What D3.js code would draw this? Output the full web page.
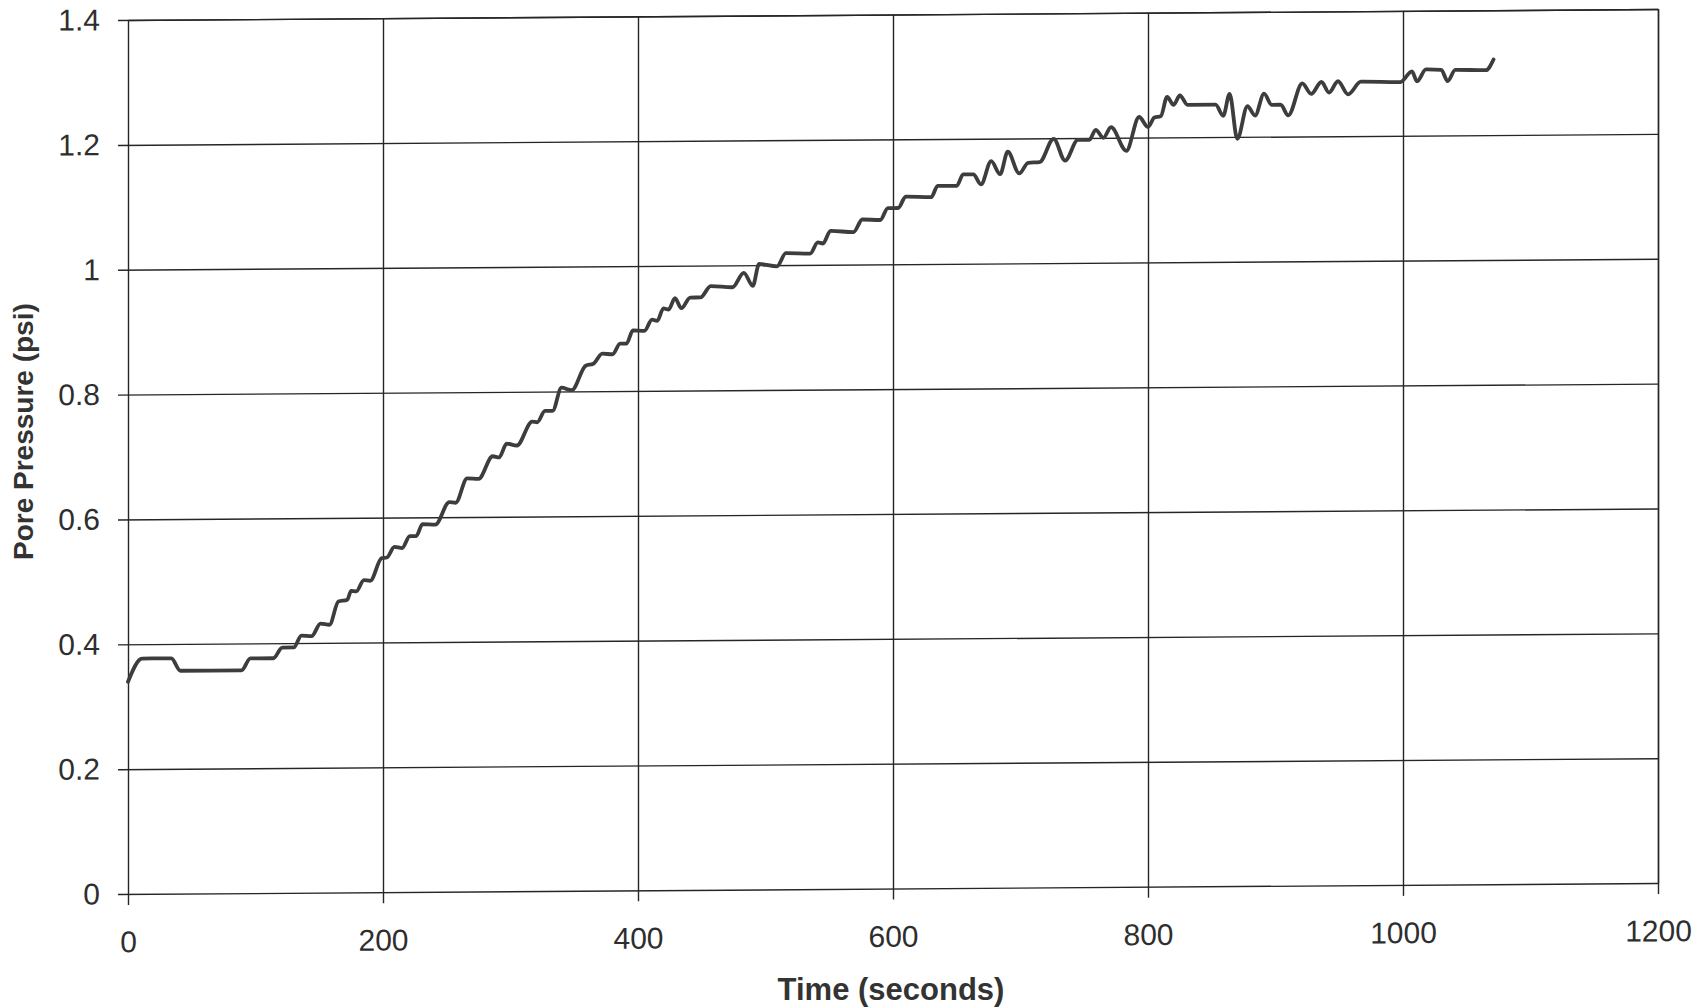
<!DOCTYPE html>
<html>
<head>
<meta charset="utf-8">
<script src="https://cdn.jsdelivr.net/npm/d3@7"></script>
<style>
  body { margin: 0; background: #fff; }
  .axis text { font-family: "Liberation Sans", Arial, sans-serif; font-size: 30px; fill: #2e2e2e; }
  .axis line, .axis path { stroke: #262626; stroke-width: 1.4px; }
  .title { font-family: "Liberation Sans", Arial, sans-serif; font-weight: bold; fill: #333; }
  .line { fill: none; stroke: #3d3d3d; stroke-width: 3.8px; stroke-linejoin: round; stroke-linecap: round; }
</style>
</head>
<body>
<div id="chart"></div>
<script>
// pore pressure record
var time = [0, 11, 34, 41, 89, 96, 114, 121, 130, 136, 144, 151, 158, 165, 172, 175, 179, 185, 190,
  199, 203, 209, 215, 221, 226, 231, 241, 252, 257, 266, 275, 286, 291, 297, 305, 317, 321, 327, 333,
  340, 348, 359, 365, 372, 380, 386, 391, 396, 405, 411, 415, 420, 424, 429, 434, 441, 449, 457, 474,
  483, 490, 495, 509, 516, 535, 541, 545, 551, 569, 576, 590, 596, 604, 610, 630, 635, 650, 655, 663,
  669, 677, 684, 690, 699, 706, 715, 726, 735, 745, 754, 759, 765, 771, 783, 793, 800, 805, 810, 815,
  820, 825, 831, 853, 859, 864, 870, 878, 884, 891, 897, 904, 910, 921, 928, 936, 942, 949, 957, 967,
  998, 1007, 1011, 1018, 1030, 1035, 1041, 1065, 1071];

var pressure = [0.340, 0.377, 0.377, 0.357, 0.357, 0.376, 0.376, 0.393, 0.393, 0.412, 0.411, 0.431, 0.429,
  0.466, 0.469, 0.483, 0.482, 0.500, 0.499, 0.535, 0.536, 0.553, 0.551, 0.570, 0.570, 0.589, 0.588,
  0.624, 0.623, 0.662, 0.661, 0.697, 0.695, 0.717, 0.714, 0.752, 0.751, 0.769, 0.769, 0.806, 0.802,
  0.841, 0.844, 0.860, 0.859, 0.876, 0.876, 0.897, 0.896, 0.914, 0.912, 0.932, 0.930, 0.948, 0.932,
  0.949, 0.949, 0.967, 0.965, 0.988, 0.967, 1.002, 0.998, 1.019, 1.018, 1.036, 1.034, 1.054, 1.052,
  1.072, 1.071, 1.090, 1.090, 1.108, 1.107, 1.125, 1.125, 1.143, 1.143, 1.127, 1.164, 1.143, 1.179,
  1.144, 1.161, 1.162, 1.199, 1.164, 1.197, 1.197, 1.213, 1.200, 1.217, 1.179, 1.233, 1.217, 1.232,
  1.234, 1.265, 1.252, 1.267, 1.252, 1.252, 1.234, 1.269, 1.197, 1.249, 1.234, 1.269, 1.251, 1.251,
  1.234, 1.285, 1.268, 1.287, 1.270, 1.288, 1.267, 1.287, 1.286, 1.303, 1.287, 1.306, 1.305, 1.287,
  1.305, 1.304, 1.321];

var xTicks = [0, 200, 400, 600, 800, 1000, 1200];
var xTickLabels = ["0", "200", "400", "600", "800", "1000", "1200"];
var yTicks = [0, 0.2, 0.4, 0.6, 0.8, 1, 1.2, 1.4];
var yTickLabels = ["0", "0.2", "0.4", "0.6", "0.8", "1", "1.2", "1.4"];

var width = 1530;
var height = 874;

var svg = d3.select('#chart')
          .append('svg')
          .attr('width', 1705)
          .attr('height', 1008);

// the scan is a little crooked, so the plot leans slightly
var g = svg.append('g')
           .attr('transform', 'translate(128,20) skewY(-0.41)');

var x = d3.scaleLinear().domain([0, 1200]).range([0, width]);
var y = d3.scaleLinear().domain([0, 1.4]).range([height, 0]);

// horizontal grid + y labels
g.append('g').attr('class', 'axis axis-y')
 .attr('transform', 'translate(' + width + ',0)')
 .call(d3.axisLeft(y)
         .tickValues(yTicks)
         .tickSizeInner(width + 10)
         .tickSizeOuter(0)
         .tickPadding(18)
         .tickFormat(function(d, i) { return yTickLabels[i]; }));

// vertical grid + x labels
g.append('g').attr('class', 'axis axis-x')
 .call(d3.axisBottom(x)
         .tickValues(xTicks)
         .tickSizeInner(height + 11)
         .tickSizeOuter(0)
         .tickPadding(26)
         .tickFormat(function(d, i) { return xTickLabels[i]; }));

var data = time.map(function(t, i) { return {t: t, p: pressure[i]}; });

var line = d3.line()
             .curve(d3.curveMonotoneX)
             .x(function(d) { return x(d.t); })
             .y(function(d) { return y(d.p); });

g.append('path')
 .datum(data)
 .attr('class', 'line')
 .attr('d', line);

// axis titles
svg.append('text')
   .attr('class', 'title')
   .attr('x', 891)
   .attr('y', 1000)
   .attr('text-anchor', 'middle')
   .style('font-size', '31px')
   .text('Time (seconds)');

svg.append('text')
   .attr('class', 'title')
   .attr('transform', 'translate(33,560) rotate(-90)')
   .attr('text-anchor', 'start')
   .style('font-size', '28px')
   .text('Pore Pressure (psi)');
</script>
</body>
</html>
